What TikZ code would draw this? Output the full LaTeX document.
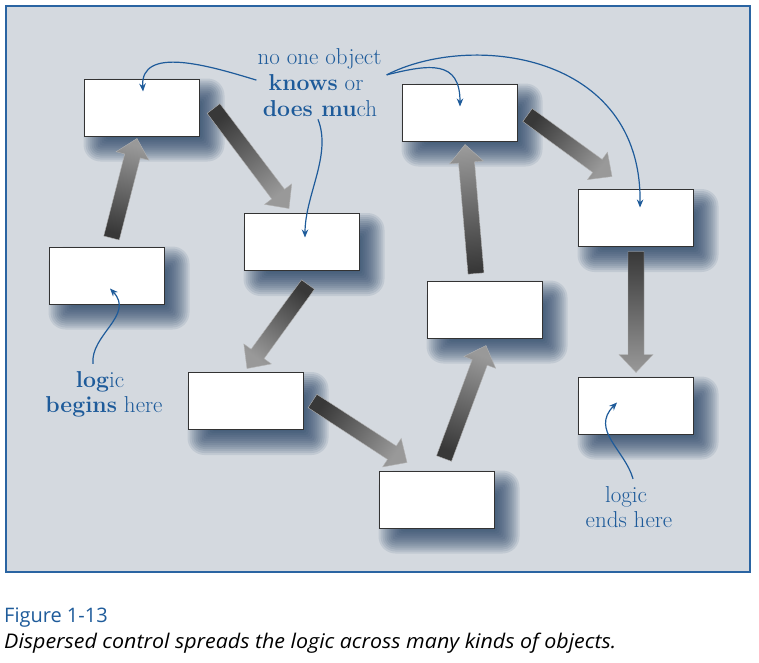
\documentclass[tikz,border=0pt]{standalone}
\usepackage{fontspec}
\newfontfamily\capfont{Open Sans}
\newfontfamily\capitfont[FakeStretch=1.06]{Open Sans}
\usetikzlibrary{calc,arrows.meta,positioning}
\definecolor{panelgray}{HTML}{D4D9DF}
\definecolor{frameblue}{HTML}{2A64A2}
\definecolor{noteblue}{HTML}{1E5B9A}
\definecolor{shadowblue}{HTML}{1F3D60}
\pgfdeclarelayer{back}
\pgfdeclarelayer{shade}
\pgfsetlayers{back,shade,main}

\tikzset{
  objbox/.style={draw=black!80, fill=white, line width=1pt, minimum width=115pt, minimum height=57pt, inner sep=0pt},
  flow/.style={top color=black!40, bottom color=black!78, draw=black!30, line width=.4pt},
  note/.style={text=noteblue, font=\fontsize{23}{27}\selectfont, inner sep=2pt, anchor=base},
  callout/.style={draw=noteblue, line width=1.2pt, -{Stealth[length=8pt,width=6.5pt]}},
}

% soft shadow below-right of a box
\newcommand\softshadow[1]{%
  \foreach \e in {14,12,...,-12}{%
    \pgfmathsetmacro\rc{max(\e,0)+3}%
    \fill[shadowblue, opacity=.1, rounded corners=\rc pt]
      ([shift={(14-\e,14-\e)}]#1.north west) rectangle ([shift={(11+\e,11+\e)}]#1.south east);
  }}

% thick shaded block arrow from #1 to #2
\newcommand\blockarrow[2]{%
  \coordinate (ta) at #1;
  \coordinate (tb) at #2;
  \pgfmathanglebetweenpoints{\pgfpointanchor{ta}{center}}{\pgfpointanchor{tb}{center}}%
  \pgfmathsetmacro\arrang{\pgfmathresult-90}%
  \shade[flow, shading angle=\arrang]
    ($(ta)!8pt!90:(tb)$) -- ($(tb)!18pt!(ta)!8pt!-90:(ta)$) -- ($(tb)!18pt!(ta)!17pt!-90:(ta)$) -- (tb)
    -- ($(tb)!18pt!(ta)!17pt!90:(ta)$) -- ($(tb)!18pt!(ta)!8pt!90:(ta)$) -- ($(ta)!8pt!-90:(tb)$) -- cycle;
}

\begin{document}
\begin{tikzpicture}[x=1pt,y=-1pt]
\useasboundingbox (0,0) rectangle (759,662);
%%%%% panel:
\begin{pgfonlayer}{back}
\draw[fill=panelgray, draw=frameblue, line width=2pt] (6,6) rectangle (750,572);
\end{pgfonlayer}
%%%%% objects:
\node[objbox] (b1) at (141.5,107.5) {};
\node[objbox] (b2) at (106.5,275.5) {};
\node[objbox] (b3) at (301.5,242)   {};
\node[objbox] (b4) at (245.5,401)   {};
\node[objbox] (b5) at (459.5,112.5) {};
\node[objbox] (b6) at (484.5,309.5) {};
\node[objbox] (b7) at (436.5,499.5) {};
\node[objbox] (b8) at (635.5,218)   {};
\node[objbox] (b9) at (635.5,405.5) {};
\begin{pgfonlayer}{shade}
\foreach \b in {b1,b2,b3,b4,b5,b6,b7,b8,b9}{
  \softshadow{\b}
}
\end{pgfonlayer}
%%%%% flow of control:
\blockarrow{([shift={(5,-8.5)}]b2.north)}{([shift={(-4.5,2)}]b1.south)}
\blockarrow{([shift={(14,1)}]b1.east)}{([shift={(-12.5,-4.5)}]b3.north)}
\blockarrow{([shift={(6.5,13.5)}]b3.south)}{([shift={(1.5,-3.5)}]b4.north)}
\blockarrow{([shift={(9,0)}]b4.east)}{([shift={(-29.5,-8)}]b7.north)}
\blockarrow{([shift={(7.5,-12)}]b7.north)}{([shift={(1.5,7)}]b6.south)}
\blockarrow{([shift={(-8.5,-7)}]b6.north)}{([shift={(5.5,3)}]b5.south)}
\blockarrow{([shift={(10,2.5)}]b5.east)}{([shift={(-23.5,-12.5)}]b8.north)}
\blockarrow{([shift={(0.5,4.5)}]b8.south)}{([shift={(0.5,-4)}]b9.north)}
%%%%% notes:
\node[note] (noone) at (319.5,64) {no one object};
\node[note] (knows) at (316,90) {\textbf{knows} or};
\node[note] (doesmuch) at (320,116) {\textbf{does mu}ch};
\node[note] (logicb) at (100,387) {\textbf{log}ic};
\node[note] (beginsl) at (104,412) {\textbf{begins} here};
\node[note] (logice) at (626,502) {logic};
\node[note] (endsl) at (629,527) {ends here};
\draw[callout] ([shift={(-10,-2)}]knows.west) .. controls (210,66) and (140,45) .. ([shift={(1.5,13)}]b1.north);
\draw[callout] ([shift={(-2,1)}]doesmuch.south) .. controls (332,155) and (305,195) .. ([shift={(3.5,24.5)}]b3.north);
\draw[callout] ([shift={(3,4)}]noone.south east) .. controls (430,64) and (460,60) .. ([shift={(0.5,23)}]b5.north);
\draw[callout] ([shift={(3,4)}]noone.south east) .. controls (470,32) and (642,52) .. ([shift={(4.5,18.5)}]b8.north);
\draw[callout] ([shift={(-7,-5)}]logicb.north) .. controls (90,335) and (135,315) .. ([shift={(3.5,-16)}]b2.south);
\draw[callout] ([shift={(7,-5)}]logice.north) .. controls (625,450) and (590,430) .. ([shift={(-18.5,26)}]b9.north);
%%%%% caption:
\node[anchor=base west, inner sep=0pt, text=noteblue, font=\capfont\fontsize{20}{24}\selectfont] (fignum) at (4,622) {Figure 1-13};
\node[anchor=base west, inner sep=0pt, font=\capitfont\itshape\fontsize{20.2}{24}\selectfont] (figcap) at (4,648) {Dispersed control spreads the logic across many kinds of objects.};
\end{tikzpicture}
\end{document}
